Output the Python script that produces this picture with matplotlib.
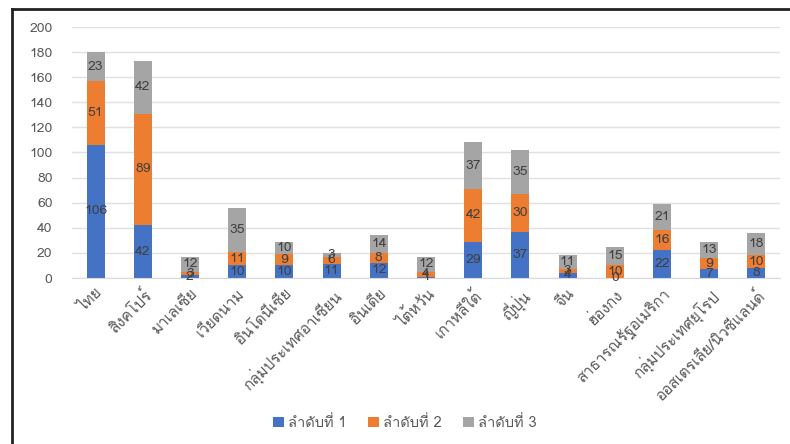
import matplotlib
matplotlib.use("Agg")
from matplotlib import pyplot as plt
from matplotlib import font_manager
from matplotlib.ft2font import FT2Font
from matplotlib.lines import Line2D
import numpy as np

countries = ["ไทย", "สิงคโปร์", "มาเลเซีย", "เวียดนาม", "อินโดนีเซีย",
             "กลุ่มประเทศอาเซียน", "อินเดีย", "ไต้หวัน", "เกาหลีใต้", "ญี่ปุ่น",
             "จีน", "ฮ่องกง", "สาธารณรัฐอเมริกา", "กลุ่มประเทศยุโรป",
             "ออสเตรเลีย/นิวซีแลนด์"]
rank1 = [106, 42, 2, 10, 10, 11, 12, 1, 29, 37, 4, 0, 22, 7, 8]
rank2 = [51, 89, 3, 11, 9, 6, 8, 4, 42, 30, 3, 10, 16, 9, 10]
rank3 = [23, 42, 12, 35, 10, 3, 14, 12, 37, 35, 11, 15, 21, 13, 18]
series_names = ["ลำดับที่ 1", "ลำดับที่ 2", "ลำดับที่ 3"]
colors = ["#4472C4", "#ED7D31", "#A5A5A5"]

# หาฟอนต์ที่มีอักษรไทย
thai_family = None
for f in font_manager.fontManager.ttflist:
    try:
        if 0x0E44 in FT2Font(f.fname).get_charmap():
            thai_family = f.name
            break
    except Exception:
        pass
families = ([thai_family] if thai_family else []) + ["DejaVu Sans"]
plt.rcParams["font.family"] = families

fig = plt.figure(figsize=(7.9, 4.44), dpi=100)
ax = fig.add_axes([72 / 790, 1 - 278 / 444, 708 / 790, 251 / 444])

x = np.arange(len(countries))
bottom = np.zeros(len(countries))
for vals, name, c in zip([rank1, rank2, rank3], series_names, colors):
    vals = np.array(vals)
    bars = ax.bar(x, vals, 0.38, bottom=bottom, color=c, label=name, zorder=2)
    ax.bar_label(bars, labels=[str(v) for v in vals], label_type="center",
                 color="#404040", fontsize=10)
    bottom += vals

ax.set_xlim(-0.5, len(countries) - 0.5)
ax.set_ylim(0, 200)
ax.set_yticks(range(0, 201, 20))
ax.yaxis.grid(True, color="#E0E0E0", linewidth=1, zorder=0)
ax.set_axisbelow(True)
for s in ["top", "right", "left"]:
    ax.spines[s].set_visible(False)
ax.spines["bottom"].set_color("#D9D9D9")
ax.tick_params(axis="y", length=0, colors="#595959", labelsize=10, pad=14)
ax.tick_params(axis="x", length=0, colors="#595959", labelsize=11, pad=6)
ax.set_xticks(x)
ax.set_xticklabels(countries, rotation=45, ha="right", rotation_mode="anchor")

fig.legend(loc="center", bbox_to_anchor=(405 / 790, 1 - 423 / 444), ncol=3,
           frameon=False, fontsize=10.5, handlelength=0.7, handleheight=0.7,
           columnspacing=1.5, handletextpad=0.3, labelcolor="#595959")

# กรอบรูปด้านซ้ายและด้านบน
fig.add_artist(Line2D([12 / 790, 12 / 790], [0, 1 - 9 / 444], color="#222222", lw=2))
fig.add_artist(Line2D([12 / 790, 1], [1 - 9 / 444, 1 - 9 / 444], color="#222222", lw=2))

plt.savefig("out.png", dpi=100)
